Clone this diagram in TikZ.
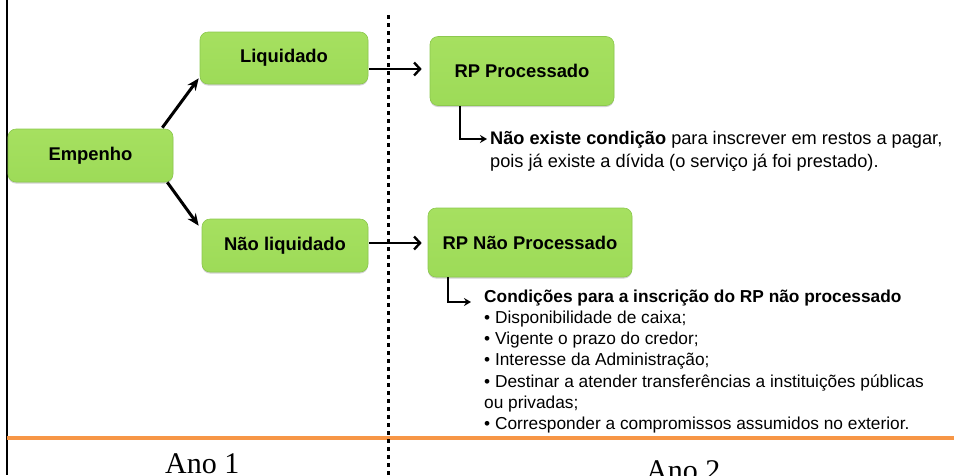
\documentclass[tikz,border=0pt]{standalone}
\usepackage{fontspec}
\setmainfont{Liberation Sans}
\newfontfamily\serifano{Liberation Serif}
\usetikzlibrary{arrows.meta,calc,shadows}
\definecolor{boxgreen}{HTML}{9DDB58}
\definecolor{boxtop}{HTML}{A6E060}
\definecolor{boxedge}{HTML}{8CC84E}
\definecolor{lineorange}{HTML}{F79646}
\tikzset{
  gbox/.style={draw=boxedge, line width=0.6pt, top color=boxtop, bottom color=boxgreen,
    rounded corners=8pt, inner sep=0pt,
    drop shadow={shadow xshift=0pt, shadow yshift=-1.5pt, opacity=0.3, fill=black!60},
    font=\fontsize{18.4}{20}\selectfont\bfseries},
  diagarrow/.style={line width=3pt, -{Stealth[length=12pt,width=10pt]}},
  hzarrow/.style={line width=2.6pt, -{Straight Barb[length=6pt,width=13pt,line width=2.4pt]}},
  elbow/.style={line width=2.6pt, -{Stealth[length=7pt,width=8pt]}},
  notetop/.style={anchor=base west, inner sep=0pt, font=\fontsize{18.2}{22}\selectfont},
  notebot/.style={anchor=base west, inner sep=0pt, font=\fontsize{17.3}{21}\selectfont},
  anotxt/.style={anchor=base west, inner sep=0pt, font=\serifano\fontsize{30}{32}\selectfont}
}
\begin{document}
\begin{tikzpicture}[x=1pt,y=-1pt]
\useasboundingbox (0,0) rectangle (954,475);
\clip (0,0) rectangle (954,475);
% frame lines
\draw[line width=2pt] (7,0) -- (7,475);
\draw[line width=4pt, lineorange] (7,438) -- (954,438);
\draw[line width=3pt, dash pattern=on 3.5pt off 4.5pt] (388,15) -- (388,475);
% boxes
\node[gbox, minimum width=165pt, minimum height=53pt] (emp) at (90.5,155.5) {Empenho};
\node[gbox, minimum width=168pt, minimum height=52pt] (liq) at (284,58) {Liquidado};
\node[gbox, minimum width=166pt, minimum height=53pt] (nliq) at (285,245.5) {Não liquidado};
\node[gbox, minimum width=184pt, minimum height=69pt] (rpp) at (522,71) {RP Processado};
\node[gbox, minimum width=204pt, minimum height=69pt] (rpn) at (530,242.5) {RP Não Processado};
% arrows
\draw[diagarrow] ($(emp.north east)+(-11,-1)$) -- ($(liq.south west)+(-1,-6)$);
\draw[diagarrow] ($(emp.south east)+(-6,0)$) -- ($(nliq.north west)+(-3,7)$);
\draw[hzarrow] ($(liq.east)+(1,11)$) -- ($(rpp.west)+(-8,-2)$);
\draw[hzarrow] ($(nliq.east)+(1,-2.5)$) -- ($(rpn.west)+(-6,0.5)$);
% RP processado note
\node[notetop] (t1a) at (490,144) {\textbf{Não existe condição} para inscrever em restos a pagar,};
\node[notetop] (t1b) at (490,167) {pois já existe a dívida (o serviço já foi prestado).};
\coordinate (e1) at ($(t1a.base west)+(-3,-5)$);
\draw[elbow] ($(rpp.south)+(-62,0)$) |- (e1);
% RP nao processado note
\node[notebot] (t2a) at (484,302) {\textbf{Condições para a inscrição do RP não processado}};
\node[notebot] (t2b) at (484,323.3) {• Disponibilidade de caixa;};
\node[notebot] (t2c) at (484,344.6) {• Vigente o prazo do credor;};
\node[notebot] (t2d) at (484,365.9) {• Interesse da Administração;};
\node[notebot] (t2e) at (484,387.2) {• Destinar a atender transferências a instituições públicas};
\node[notebot] (t2f) at (484,408.5) {ou privadas;};
\node[notebot] (t2g) at (484,429.8) {• Corresponder a compromissos assumidos no exterior.};
\coordinate (e2) at ($(t2a.base west)+(-13,0)$);
\draw[elbow] ($(rpn.south)+(-82,0)$) |- (e2);
% year labels
\node[anotxt] (ano1) at (165,473) {Ano 1};
\node[anotxt] (ano2) at (646,480) {Ano 2};
\end{tikzpicture}
\end{document}
